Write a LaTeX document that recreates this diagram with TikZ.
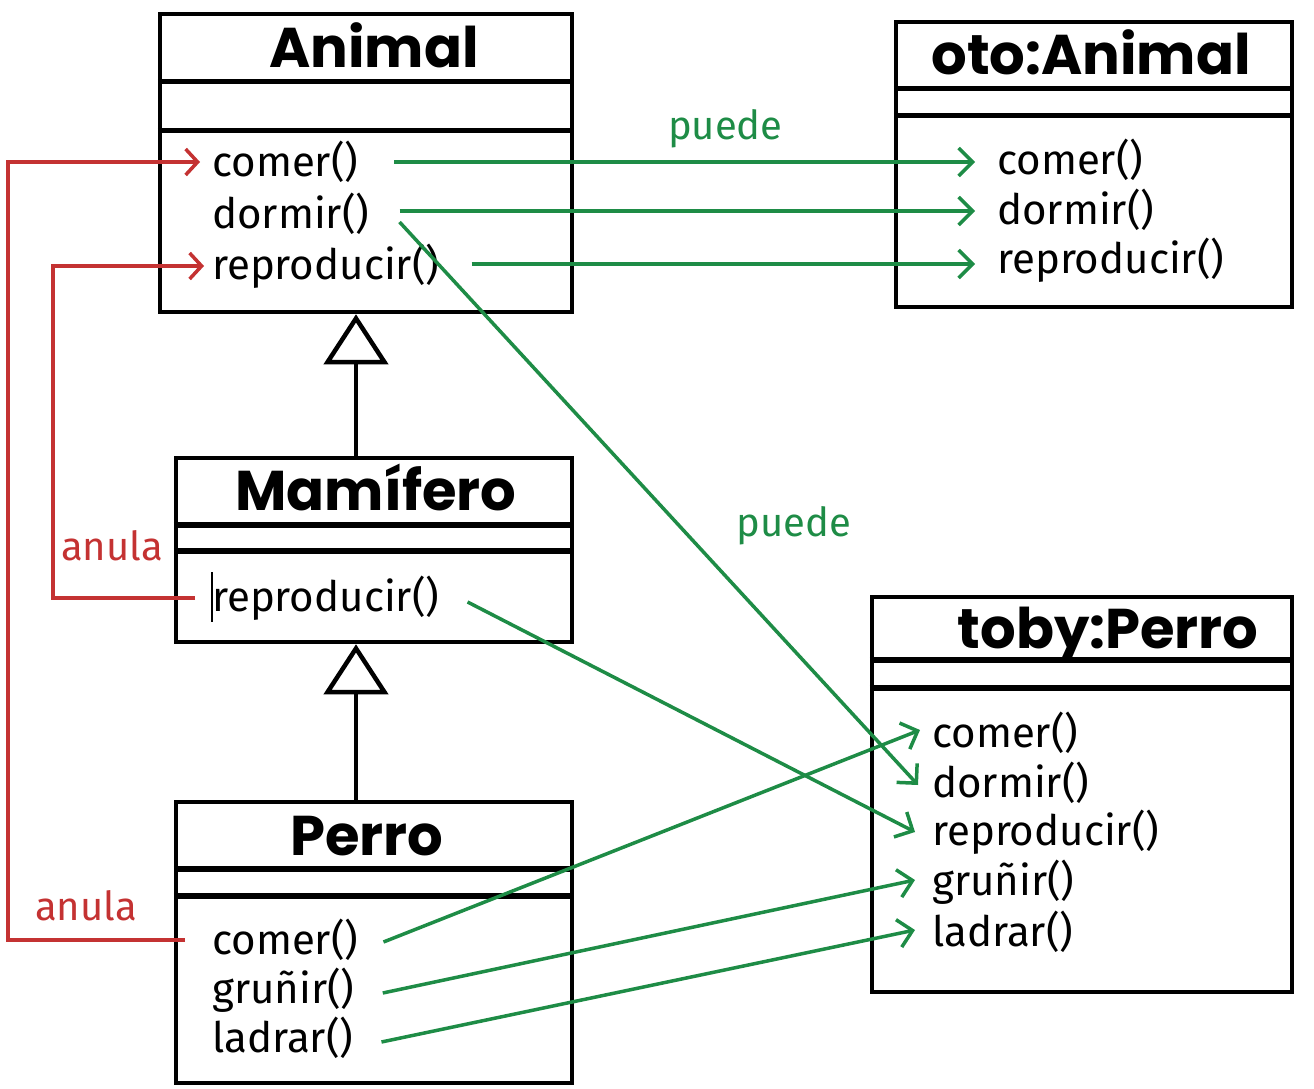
\documentclass[tikz,border=0pt]{standalone}
\usepackage{fontspec}
\setmainfont{Fira Sans}
\newfontfamily\titlefont{Poppins}
\usepackage{xcolor}
\usetikzlibrary{arrows.meta}
\definecolor{puedegreen}{RGB}{30,140,70}
\definecolor{anulared}{RGB}{196,50,50}
\tikzset{
  every classbox node/.style={
    draw=black,line width=4pt,inner sep=0pt,
  },
}

\begin{document}
\begin{tikzpicture}[x=1pt,y=-1pt]
		\tikzstyle{classbox}=[draw,line width=4.5pt,inner sep=0pt]
		\tikzstyle{classname}=[anchor=base,inner sep=0pt,font=\titlefont\bfseries\fontsize{56}{60}\selectfont]
		\tikzstyle{method}=[anchor=west,inner sep=0pt,font=\fontsize{42}{50}\selectfont]
		\tikzstyle{note}=[inner sep=0pt,font=\fontsize{40}{48}\selectfont]
		\tikzstyle{sep}=[line width=5.5pt]
		\tikzstyle{inherit}=[line width=4.5pt,-{Triangle[open,length=50pt,width=64pt]}]
		\tikzstyle{puede}=[puedegreen,line width=3.5pt,-{Straight Barb[length=14pt,width=28pt]}]
		\tikzstyle{anula}=[anulared,line width=3.5pt,-{Straight Barb[length=12pt,width=26pt]}]

		\useasboundingbox (0,0) rectangle (1314,1089);

		\node[classbox,minimum width=412pt,minimum height=298pt] (animal) at (366,163) {};
		\node[classbox,minimum width=396pt,minimum height=184pt] (mamifero) at (374,550) {};
		\node[classbox,minimum width=396pt,minimum height=281pt] (perro) at (374,942.5) {};
		\node[classbox,minimum width=396pt,minimum height=285pt] (oto) at (1094,164.5) {};
		\node[classbox,minimum width=420pt,minimum height=395pt] (toby) at (1082,794.5) {};

		\node[classname] (animal-name) at (374,68) {Animal};
		\node[classname] (mamifero-name) at (376,510) {Mamífero};
		\node[classname] (perro-name) at (367,855) {Perro};
		\node[classname] (oto-name) at (1091,75) {oto:Animal};
		\node[classname] (toby-name) at (1108,648) {toby:Perro};

		\draw[sep] ([yshift=-70pt]animal.north west) -- ([yshift=-70pt]animal.north east);
		\draw[sep] ([yshift=-119pt]animal.north west) -- ([yshift=-119pt]animal.north east);
		\draw[sep] ([yshift=-69pt]mamifero.north west) -- ([yshift=-69pt]mamifero.north east);
		\draw[sep] ([yshift=-95pt]mamifero.north west) -- ([yshift=-95pt]mamifero.north east);
		\draw[sep] ([yshift=-69pt]perro.north west) -- ([yshift=-69pt]perro.north east);
		\draw[sep] ([yshift=-96pt]perro.north west) -- ([yshift=-96pt]perro.north east);
		\draw[sep] ([yshift=-69pt]oto.north west) -- ([yshift=-69pt]oto.north east);
		\draw[sep] ([yshift=-96pt]oto.north west) -- ([yshift=-96pt]oto.north east);
		\draw[sep] ([yshift=-65pt]toby.north west) -- ([yshift=-65pt]toby.north east);
		\draw[sep] ([yshift=-93pt]toby.north west) -- ([yshift=-93pt]toby.north east);

		\node[method] (a-comer) at (212,162) {comer()};
		\node[method] (a-dormir) at (212,214) {dormir()};
		\node[method] (a-repro) at (212,266) {reproducir()};
		\node[method] (m-repro) at (212,598) {reproducir()};
		\node[method] (p-comer) at (212,940) {comer()};
		\node[method] (p-grunir) at (212,990) {gruñir()};
		\node[method] (p-ladrar) at (212,1038) {ladrar()};
		\node[method] (o-comer) at (997,160) {comer()};
		\node[method] (o-dormir) at (997,210) {dormir()};
		\node[method] (o-repro) at (997,260) {reproducir()};
		\node[method] (t-comer) at (932,733) {comer()};
		\node[method] (t-dormir) at (932,783) {dormir()};
		\node[method] (t-repro) at (932,832) {reproducir()};
		\node[method] (t-grunir) at (932,882) {gruñir()};
		\node[method] (t-ladrar) at (932,932) {ladrar()};

		\draw[line width=1.5pt] ([yshift=26pt]m-repro.west) -- ([yshift=-24pt]m-repro.west);

		\draw[inherit] ([xshift=-18pt]mamifero.north) -- ([xshift=-10pt]animal.south);
		\draw[inherit] ([xshift=-18pt]perro.north) -- ([xshift=-18pt]mamifero.south);

		\draw[puede] ([xshift=36pt]a-comer.east) -- node[note,above=12pt,pos=0.57] (puede-oto) {puede} ([xshift=-22pt]o-comer.west |- a-comer.east);
		\draw[puede] ([xshift=30pt,yshift=3pt]a-dormir.east) -- ([xshift=-22pt]o-dormir.west |- 0,211);
		\draw[puede] ([xshift=32pt,yshift=2pt]a-repro.east) -- ([xshift=-22pt]o-repro.west |- 0,264);
		\draw[puede] ([xshift=30pt,yshift=-8pt]a-dormir.east) -- node[note,right=55pt,pos=0.54] (puede-toby) {puede} ([xshift=-14pt,yshift=-2pt]t-dormir.west);
		\draw[puede] ([xshift=28pt,yshift=-4pt]m-repro.east) -- ([xshift=-17pt]t-repro.west);
		\draw[puede] ([xshift=25pt,yshift=-2pt]p-comer.east) -- ([xshift=-12pt,yshift=3pt]t-comer.west);
		\draw[puede] ([xshift=28pt,yshift=-3pt]p-grunir.east) -- ([xshift=-17pt,yshift=2pt]t-grunir.west);
		\draw[puede] ([xshift=28pt,yshift=-4pt]p-ladrar.east) -- ([xshift=-17pt,yshift=2pt]t-ladrar.west);

		\coordinate (anula-outer) at (8,0);
		\coordinate (anula-inner) at (53,0);
		\draw[anula] ([xshift=-27pt]p-comer.west) -- (anula-outer |- p-comer.west) -- (anula-outer |- a-comer.west) -- ([xshift=-12pt]a-comer.west);
		\draw[anula] ([xshift=-17pt]m-repro.west) -- (anula-inner |- m-repro.west) -- (anula-inner |- a-repro.west) -- ([xshift=-8pt]a-repro.west);
		\node[note,text=anulared] (anula-m) at (112,546) {anula};
		\node[note,text=anulared] (anula-p) at (86,906) {anula};

	\end{tikzpicture}
\end{document}
